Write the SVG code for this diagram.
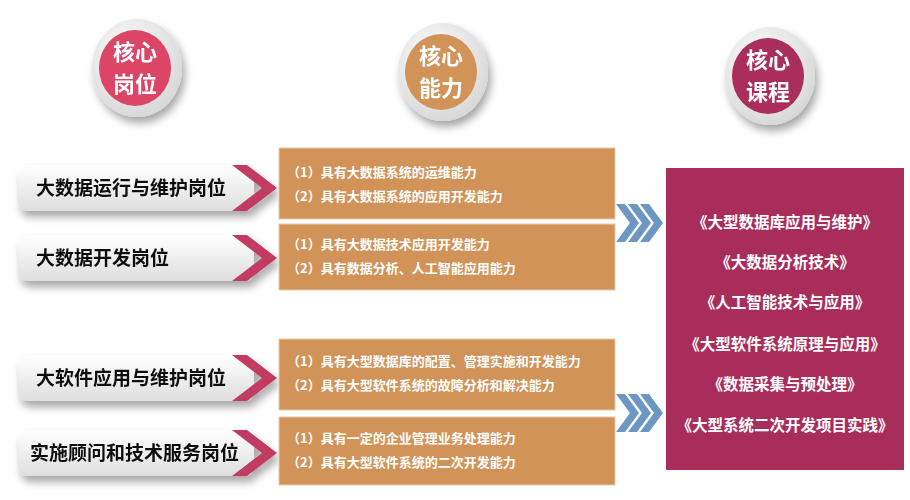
<svg xmlns="http://www.w3.org/2000/svg" width="910" height="500" viewBox="0 0 910 500">
<defs>
<radialGradient id="plate" cx="0.4" cy="0.35" r="0.7"><stop offset="0" stop-color="#ffffff"/><stop offset="1" stop-color="#d6d6d6"/></radialGradient>
<linearGradient id="lab" x1="0" y1="0" x2="0" y2="1"><stop offset="0" stop-color="#ffffff"/><stop offset="1" stop-color="#dedede"/></linearGradient>
<filter id="sh" x="-20%" y="-20%" width="150%" height="160%"><feGaussianBlur in="SourceAlpha" stdDeviation="4"/><feOffset dx="3" dy="6"/><feComponentTransfer><feFuncA type="linear" slope="0.35"/></feComponentTransfer><feMerge><feMergeNode/><feMergeNode in="SourceGraphic"/></feMerge></filter>
<g id="chev"><path d="M0,0 h9 l14,19 l-14,19 h-9 l14,-19z" fill="#6b97c2"/></g>
</defs>
<style>
.ct{font-family:"Noto Sans CJK SC",sans-serif;font-weight:bold;fill:#fff;font-size:22px;text-anchor:middle}
.lt{font-family:"Noto Sans CJK SC",sans-serif;font-weight:bold;fill:#111;font-size:19px}
.ab{fill:#d29359;stroke:#e8c9a8;stroke-width:1}
.at{font-family:"Noto Sans CJK SC",sans-serif;font-weight:bold;fill:#fff;font-size:13px}
.rt{font-family:"Noto Sans CJK SC",sans-serif;font-weight:bold;fill:#fff;font-size:15.5px;text-anchor:middle}
</style>
<g id="circle1" filter="url(#sh)"><ellipse cx="137" cy="68" rx="45" ry="49" fill="url(#plate)"/><ellipse cx="135" cy="68" rx="36" ry="38" fill="#dc4465"/><text class="ct" x="135" y="60">核心</text><text class="ct" x="135" y="92">岗位</text></g>
<g id="circle2" filter="url(#sh)"><ellipse cx="443" cy="72" rx="45" ry="49" fill="url(#plate)"/><ellipse cx="441" cy="72" rx="36" ry="38" fill="#d29359"/><text class="ct" x="441" y="64">核心</text><text class="ct" x="441" y="96">能力</text></g>
<g id="circle3" filter="url(#sh)"><ellipse cx="770" cy="76" rx="45" ry="49" fill="url(#plate)"/><ellipse cx="768" cy="76" rx="36" ry="38" fill="#a92d5b"/><text class="ct" x="768" y="68">核心</text><text class="ct" x="768" y="100">课程</text></g>
<g id="post1" filter="url(#sh)"><rect x="18" y="165" width="236" height="46" rx="9" fill="url(#lab)"/><path d="M232,165 h15 l30,23 l-30,23 h-15 l30,-23z" fill="#c23a64"/><text class="lt" x="36" y="195">大数据运行与维护岗位</text></g>
<g id="post2" filter="url(#sh)"><rect x="18" y="235" width="236" height="46" rx="9" fill="url(#lab)"/><path d="M232,235 h15 l30,23 l-30,23 h-15 l30,-23z" fill="#c23a64"/><text class="lt" x="36" y="265">大数据开发岗位</text></g>
<g id="post3" filter="url(#sh)"><rect x="18" y="355" width="236" height="46" rx="9" fill="url(#lab)"/><path d="M232,355 h15 l30,23 l-30,23 h-15 l30,-23z" fill="#c23a64"/><text class="lt" x="36" y="385">大软件应用与维护岗位</text></g>
<g id="post4" filter="url(#sh)"><rect x="18" y="430" width="236" height="46" rx="9" fill="url(#lab)"/><path d="M232,430 h15 l30,23 l-30,23 h-15 l30,-23z" fill="#c23a64"/><text class="lt" x="30" y="460">实施顾问和技术服务岗位</text></g>
<g id="ability1"><rect class="ab" x="279" y="148" width="336" height="71"/><text class="at" x="287" y="177">（1）具有大数据系统的运维能力</text><text class="at" x="287" y="201">（2）具有大数据系统的应用开发能力</text></g>
<g id="ability2"><rect class="ab" x="279" y="224" width="336" height="66"/><text class="at" x="287" y="249">（1）具有大数据技术应用开发能力</text><text class="at" x="287" y="273">（2）具有数据分析、人工智能应用能力</text></g>
<g id="ability3"><rect class="ab" x="279" y="339" width="336" height="71"/><text class="at" x="287" y="366">（1）具有大型数据库的配置、管理实施和开发能力</text><text class="at" x="287" y="390">（2）具有大型软件系统的故障分析和解决能力</text></g>
<g id="ability4"><rect class="ab" x="279" y="417" width="336" height="68"/><text class="at" x="287" y="443">（1）具有一定的企业管理业务处理能力</text><text class="at" x="287" y="467">（2）具有大型软件系统的二次开发能力</text></g>
<g id="connectors"><use href="#chev" x="616" y="204"/><use href="#chev" x="628" y="204"/><use href="#chev" x="640" y="204"/><use href="#chev" x="616" y="394"/><use href="#chev" x="628" y="394"/><use href="#chev" x="640" y="394"/></g>
<g id="courses"><rect x="666" y="168" width="238" height="302" fill="#a92d5b"/>
<text class="rt" x="785" y="228">《大型数据库应用与维护》</text>
<text class="rt" x="785" y="268">《大数据分析技术》</text>
<text class="rt" x="785" y="308">《人工智能技术与应用》</text>
<text class="rt" x="785" y="350">《大型软件系统原理与应用》</text>
<text class="rt" x="785" y="390">《数据采集与预处理》</text>
<text class="rt" x="785" y="431">《大型系统二次开发项目实践》</text></g>
</svg>
